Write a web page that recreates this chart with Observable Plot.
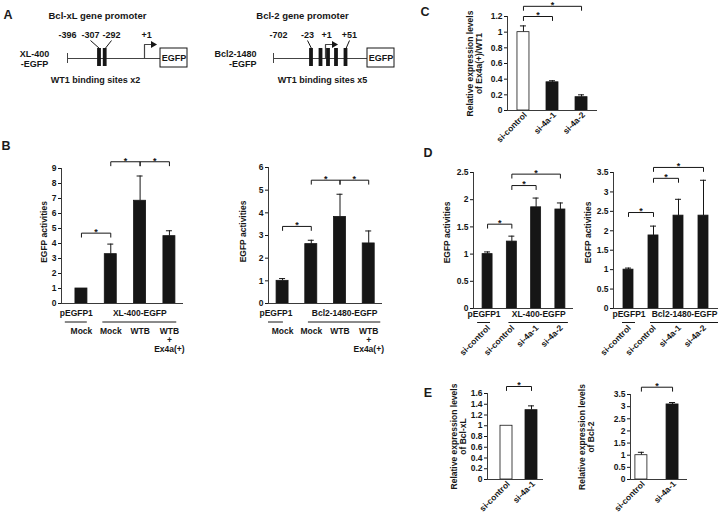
<!DOCTYPE html>
<html><head><meta charset="utf-8">
<script src="https://cdn.jsdelivr.net/npm/d3@7"></script>
<script src="https://cdn.jsdelivr.net/npm/@observablehq/plot@0.6"></script>
<style>
body{margin:0;background:#fff;}
#root{position:relative;width:721px;height:513px;overflow:hidden;background:#fff;font-family:"Liberation Sans",Arial,sans-serif;color:#1a1a1a;}
#root svg{position:absolute;overflow:visible;}
.lbl{position:absolute;font-weight:bold;font-size:12.5px;line-height:1;transform:translate(-50%,-50%);}
</style></head><body><div id="root"></div>
<script>
// ---------- DATA ----------
// Panel A (schematic constructs)
const xlSites = [99, 104.7];
const xlSiteLabels = ["-396", "-307", "-292", "+1"];
const bcl2Sites = [311, 320.5, 328, 336, 345.5];
const bcl2SiteLabels = ["-702", "-23", "+1", "+51"];

// Panel B
const bConditions = ["Mock", "Mock", "WTB", "WTB\n+\nEx4a(+)"];
const bXLValues = [1.0, 3.29, 6.85, 4.49];
const bXLErrors = [0, 0.67, 1.65, 0.36];
const bBcl2Values = [1.0, 2.62, 3.82, 2.65];
const bBcl2Errors = [0.1, 0.17, 1.0, 0.55];
const bXLTicks = [0, 1, 2, 3, 4, 5, 6, 7, 8, 9];
const bXLTickLabels = ["0", "1", "2", "3", "4", "5", "6", "7", "8", "9"];
const bBcl2Ticks = [0, 1, 2, 3, 4, 5, 6];
const bBcl2TickLabels = ["0", "1", "2", "3", "4", "5", "6"];
const bXLBrackets = [[0, 1, 4.69], [1, 2, 9.45], [2, 3, 9.45]];
const bBcl2Brackets = [[0, 1, 3.4], [1, 2, 5.44], [2, 3, 5.44]];
const bXLGroups = [{label: "pEGFP1", from: 0, to: 0}, {label: "XL-400-EGFP", from: 1, to: 3}];
const bBcl2Groups = [{label: "pEGFP1", from: 0, to: 0}, {label: "Bcl2-1480-EGFP", from: 1, to: 3}];

// Panel C
const cCategories = ["si-control", "si-4a-1", "si-4a-2"];
const cValues = [1.0, 0.36, 0.17];
const cErrors = [0.08, 0.02, 0.03];
const cTicks = [0, 0.2, 0.4, 0.6, 0.8, 1, 1.2];
const cTickLabels = ["0", "0.2", "0.4", "0.6", "0.8", "1", "1.2"];
const cBrackets = [[0, 1, 1.2], [0, 2, 1.33]];

// Panel D
const dCategories = ["si-control", "si-control", "si-4a-1", "si-4a-2"];
const dXLValues = [1.0, 1.23, 1.86, 1.82];
const dXLErrors = [0.04, 0.1, 0.17, 0.12];
const dBcl2Values = [1.0, 1.88, 2.39, 2.39];
const dBcl2Errors = [0.04, 0.24, 0.42, 0.91];
const dXLTicks = [0, 0.5, 1, 1.5, 2, 2.5];
const dXLTickLabels = ["0", "0.5", "1", "1.5", "2", "2.5"];
const dBcl2Ticks = [0, 0.5, 1, 1.5, 2, 2.5, 3, 3.5];
const dBcl2TickLabels = ["0", "0.5", "1", "1.5", "2", "2.5", "3", "3.5"];
const dXLBrackets = [[0, 1, 1.55], [1, 2, 2.26], [1, 3, 2.47]];
const dBcl2Brackets = [[0, 1, 2.47], [1, 2, 3.35], [1, 3, 3.63]];
const dXLGroups = [{label: "pEGFP1", from: 0, to: 0}, {label: "XL-400-EGFP", from: 1, to: 3}];
const dBcl2Groups = [{label: "pEGFP1", from: 0, to: 0}, {label: "Bcl2-1480-EGFP", from: 1, to: 3}];

// Panel E
const eCategories = ["si-control", "si-4a-1"];
const eXLValues = [1.0, 1.29];
const eXLErrors = [0, 0.08];
const eBcl2Values = [1.0, 3.09];
const eBcl2Errors = [0.12, 0.08];
const eXLTicks = [0, 0.2, 0.4, 0.6, 0.8, 1, 1.2, 1.4, 1.6];
const eXLTickLabels = ["0", "0.2", "0.4", "0.6", "0.8", "1", "1.2", "1.4", "1.6"];
const eBcl2Ticks = [0, 0.5, 1, 1.5, 2, 2.5, 3, 3.5];
const eBcl2TickLabels = ["0", "0.5", "1", "1.5", "2", "2.5", "3", "3.5"];
const eXLBrackets = [[0, 1, 1.73]];
const eBcl2Brackets = [[0, 1, 3.8]];

// ---------- RENDER ----------
const FONT = '"Liberation Sans", Arial, sans-serif';
const INK = "#161616";
const AXIS = "#3a3a3a";
const DARK = "#161616";
const root = document.getElementById("root");

function place(el, left, top) {
  el.style.position = "absolute";
  el.style.left = left + "px";
  el.style.top = top + "px";
  root.appendChild(el);
}

function barPanel(c) {
  const n = c.values.length;
  const idx = d3.range(n);
  const frameW = c.width - c.ml - c.mr, frameH = c.height - c.mt - c.mb;
  const pxX = frameW / (c.xdom[1] - c.xdom[0]);
  const pxY = frameH / c.yMax;
  const hw = c.barPx / 2 / pxX, cap = 3 / pxX, drop = 4 / pxY;
  const bars = idx.map(i => ({i, v: c.values[i], e: c.errors[i], fill: c.fills[i]}));
  const errs = bars.filter(d => d.e > 0);
  const brk = c.brackets.map(([a, b, h], k) => ({a, b, h, k}));
  const brkPts = brk.flatMap(d => [
    {k: d.k, x: d.a, y: d.h - drop}, {k: d.k, x: d.a, y: d.h},
    {k: d.k, x: d.b, y: d.h}, {k: d.k, x: d.b, y: d.h - drop}]);
  const marks = [
    Plot.ruleX(errs, {x: "i", y1: "v", y2: d => d.v + d.e, stroke: INK, strokeWidth: 1}),
    Plot.ruleY(errs, {x1: d => d.i - cap, x2: d => d.i + cap, y: d => d.v + d.e, stroke: INK, strokeWidth: 1}),
    Plot.rect(bars, {x1: d => d.i - hw, x2: d => d.i + hw, y1: 0, y2: "v", fill: d => d.fill, stroke: INK, strokeWidth: 0.8}),
    Plot.ruleX([c.xdom[0]], {stroke: AXIS, strokeWidth: 1}),
    Plot.ruleY([0], {stroke: AXIS, strokeWidth: 1}),
    Plot.axisY({ticks: c.yTicks, tickFormat: d => c.yTickLabels[c.yTicks.findIndex(t => Math.abs(t - d) < 1e-9)],
      tickSize: 3, tickPadding: 2, label: null}),
    Plot.line(brkPts, {x: "x", y: "y", z: "k", stroke: INK, strokeWidth: 1}),
    Plot.text(brk, {x: d => (d.a + d.b) / 2, y: "h", text: () => "*", dy: -1, fontSize: 9}),
    Plot.text([c.yLabel], {text: d => d, frameAnchor: "left", textAnchor: "middle", rotate: -90, dx: c.yLabelDx, dy: c.yLabelDy || 0, lineHeight: 1.05})
  ];
  if (c.groups) {
    const g = c.groups.map((d, k) => ({...d, x1: d.from - c.groupPads[k][0], x2: d.to + c.groupPads[k][1]}));
    marks.push(Plot.text(g, {x: d => (d.x1 + d.x2) / 2, frameAnchor: "bottom", dy: c.groupDy, text: "label"}));
    marks.push(Plot.ruleY(g, {x1: "x1", x2: "x2", y: () => 0, dy: c.lineDy, stroke: INK, strokeWidth: 1}));
  }
  if (c.conds) {
    marks.push(Plot.text(c.conds, {x: (d, i) => i, text: d => d, frameAnchor: "bottom", dy: c.condDy, lineAnchor: "top", lineHeight: 1.03}));
  }
  if (c.rotCats) {
    marks.push(Plot.text(c.rotCats, {x: (d, i) => i, text: d => d, frameAnchor: "bottom", rotate: -45, textAnchor: "end",
      dx: c.rotDx, dy: c.rotDy}));
  }
  const svg = Plot.plot({
    width: c.width, height: c.height,
    marginTop: c.mt, marginRight: c.mr, marginBottom: c.mb, marginLeft: c.ml,
    x: {domain: c.xdom, axis: null},
    y: {domain: [0, c.yMax]},
    style: {fontFamily: FONT, fontSize: "8.5px", fontWeight: "bold", color: DARK, background: "transparent", overflow: "visible"},
    marks
  });
  place(svg, c.left, c.top);
}

// Panel B
barPanel({left: 0, top: 130, width: 200, height: 220, mt: 38, mb: 47, ml: 61, mr: 17, xdom: [-0.68, 3.48],
  yMax: 9, yTicks: bXLTicks, yTickLabels: bXLTickLabels, values: bXLValues, errors: bXLErrors,
  fills: bXLValues.map(() => DARK), barPx: 12, brackets: bXLBrackets, yLabel: "EGFP activities", yLabelDx: -17, yLabelDy: -4,
  groups: bXLGroups, groupPads: [[0.55, 0.2], [0.27, 0.25]], groupDy: 12, lineDy: 18.5, conds: bConditions, condDy: 24.5});
barPanel({left: 200, top: 130, width: 200, height: 220, mt: 37, mb: 47, ml: 68, mr: 18, xdom: [-0.49, 3.48],
  yMax: 6, yTicks: bBcl2Ticks, yTickLabels: bBcl2TickLabels, values: bBcl2Values, errors: bBcl2Errors,
  fills: bBcl2Values.map(() => DARK), barPx: 12, brackets: bBcl2Brackets, yLabel: "EGFP activities", yLabelDx: -25, yLabelDy: -4,
  groups: bBcl2Groups, groupPads: [[0.49, 0.03], [0.1, 0.42]], groupDy: 12, lineDy: 18.5, conds: bConditions, condDy: 24.5});

// Panel C
barPanel({left: 420, top: 0, width: 185, height: 145, mt: 16, mb: 35, ml: 87, mr: 8, xdom: [-0.55, 2.55],
  yMax: 1.2, yTicks: cTicks, yTickLabels: cTickLabels, values: cValues, errors: cErrors,
  fills: ["white", DARK, DARK], barPx: 12, brackets: cBrackets,
  yLabel: "Relative expression levels\nof Ex4a(+)/WT1", yLabelDx: -33, rotCats: cCategories, rotDx: 4, rotDy: 5});

// Panel D
barPanel({left: 400, top: 140, width: 180, height: 225, mt: 32, mb: 57, ml: 73, mr: 7, xdom: [-0.58, 3.54],
  yMax: 2.5, yTicks: dXLTicks, yTickLabels: dXLTickLabels, values: dXLValues, errors: dXLErrors,
  fills: dXLValues.map(() => DARK), barPx: 10, brackets: dXLBrackets, yLabel: "EGFP activities", yLabelDx: -26, yLabelDy: -8,
  groups: dXLGroups, groupPads: [[0.41, 0.12], [0.12, 0.33]], groupDy: 8, lineDy: 14, rotCats: dCategories, rotDx: 3, rotDy: 20});
barPanel({left: 580, top: 140, width: 141, height: 225, mt: 32, mb: 57, ml: 33, mr: 3, xdom: [-0.6, 3.6],
  yMax: 3.5, yTicks: dBcl2Ticks, yTickLabels: dBcl2TickLabels, values: dBcl2Values, errors: dBcl2Errors,
  fills: dBcl2Values.map(() => DARK), barPx: 10, brackets: dBcl2Brackets, yLabel: "EGFP activities", yLabelDx: -25, yLabelDy: -8,
  groups: dBcl2Groups, groupPads: [[0.24, 0.28], [0.12, 0.6]], groupDy: 8, lineDy: 14, rotCats: dCategories, rotDx: 3, rotDy: 20});

// Panel E
barPanel({left: 400, top: 380, width: 150, height: 133, mt: 13, mb: 34, ml: 87, mr: 7, xdom: [-0.76, 1.48],
  yMax: 1.6, yTicks: eXLTicks, yTickLabels: eXLTickLabels, values: eXLValues, errors: eXLErrors,
  fills: ["white", DARK], barPx: 12, brackets: eXLBrackets,
  yLabel: "Relative expression levels\nof Bcl-xL", yLabelDx: -29, rotCats: eCategories, rotDx: 4, rotDy: 5});
barPanel({left: 560, top: 380, width: 161, height: 133, mt: 14, mb: 34, ml: 70, mr: 34, xdom: [-0.35, 1.48],
  yMax: 3.5, yTicks: eBcl2Ticks, yTickLabels: eBcl2TickLabels, values: eBcl2Values, errors: eBcl2Errors,
  fills: ["white", DARK], barPx: 12, brackets: eBcl2Brackets,
  yLabel: "Relative expression levels\nof Bcl-2", yLabelDx: -44, rotCats: eCategories, rotDx: 4, rotDy: 5});

// Panel A: promoter constructs (schematic)
function construct(k) {
  const sites = k.sites.map(x => ({x}));
  const labels = k.labels.map((t, i) => ({t, x: k.labelX[i], to: k.leaderTo[i]}));
  const leaders = labels.filter(d => d.to != null);
  return [
    Plot.text([k.title], {text: d => d, x: k.titleX, y: 15, fontSize: 9.5}),
    Plot.ruleY([58], {x1: k.start, x2: k.boxX, stroke: "#444"}),
    Plot.ruleX([k.start], {y1: 53, y2: 63, stroke: "#444"}),
    Plot.line([[k.tss, 58], [k.tss, 44], [k.tss + 7, 44]], {x: d => d[0], y: d => d[1], stroke: "#444", strokeWidth: 1.2}),
    Plot.dot([[k.tss + 8.5, 44]], {x: d => d[0], y: d => d[1], symbol: "triangle", r: 2.6, rotate: 90, fill: INK, stroke: "none"}),
    Plot.rect(sites, {x1: d => d.x - 1.9, x2: d => d.x + 1.9, y1: 48, y2: 66, fill: INK}),
    Plot.link(leaders, {x1: "x", y1: 40, x2: "to", y2: 48, stroke: INK}),
    Plot.text(labels, {x: "x", y: 35, text: "t", fontSize: 9}),
    Plot.rect([k.boxX], {x1: d => d, x2: d => d + 27, y1: 48, y2: 67, fill: "white", stroke: INK}),
    Plot.text(["EGFP"], {text: d => d, x: k.boxX + 13.5, y: 57.5, fontSize: 9}),
    Plot.text([k.name], {text: d => d, x: k.nameX, y: 58, textAnchor: k.nameAnchor, fontSize: 9, lineHeight: 1.12}),
    Plot.text([k.caption], {text: d => d, x: k.captionX, y: 80, fontSize: 9})
  ];
}
const aSvg = Plot.plot({
  width: 420, height: 95, margin: 0,
  x: {domain: [0, 420], range: [0, 420], axis: null},
  y: {domain: [0, 95], range: [0, 95], axis: null},
  style: {fontFamily: FONT, fontSize: "9px", fontWeight: "bold", color: DARK, background: "transparent", overflow: "visible"},
  marks: [
    ...construct({title: "Bcl-xL gene promoter", titleX: 97, start: 67, boxX: 160, tss: 144, sites: xlSites,
      labels: xlSiteLabels, labelX: [67, 90, 111, 146], leaderTo: [null, 99, 104.7, null],
      name: "XL-400\n-EGFP", nameX: 34, nameAnchor: "middle", caption: "WT1 binding sites x2", captionX: 95}),
    ...construct({title: "Bcl-2 gene promoter", titleX: 302, start: 273, boxX: 367, tss: 325, sites: bcl2Sites,
      labels: bcl2SiteLabels, labelX: [278, 307, 326, 349], leaderTo: [null, 311, null, 345.5],
      name: "Bcl2-1480\n-EGFP", nameX: 256, nameAnchor: "end", caption: "WT1 binding sites x5", captionX: 322})
  ]
});
place(aSvg, 0, 0);

// Panel letters
[["A", 8, 15], ["B", 6, 146], ["C", 425, 12], ["D", 428, 153], ["E", 428, 393]].forEach(([t, x, y]) => {
  const s = document.createElement("div");
  s.className = "lbl"; s.textContent = t; s.style.left = x + "px"; s.style.top = y + "px";
  root.appendChild(s);
});
</script></body></html>
